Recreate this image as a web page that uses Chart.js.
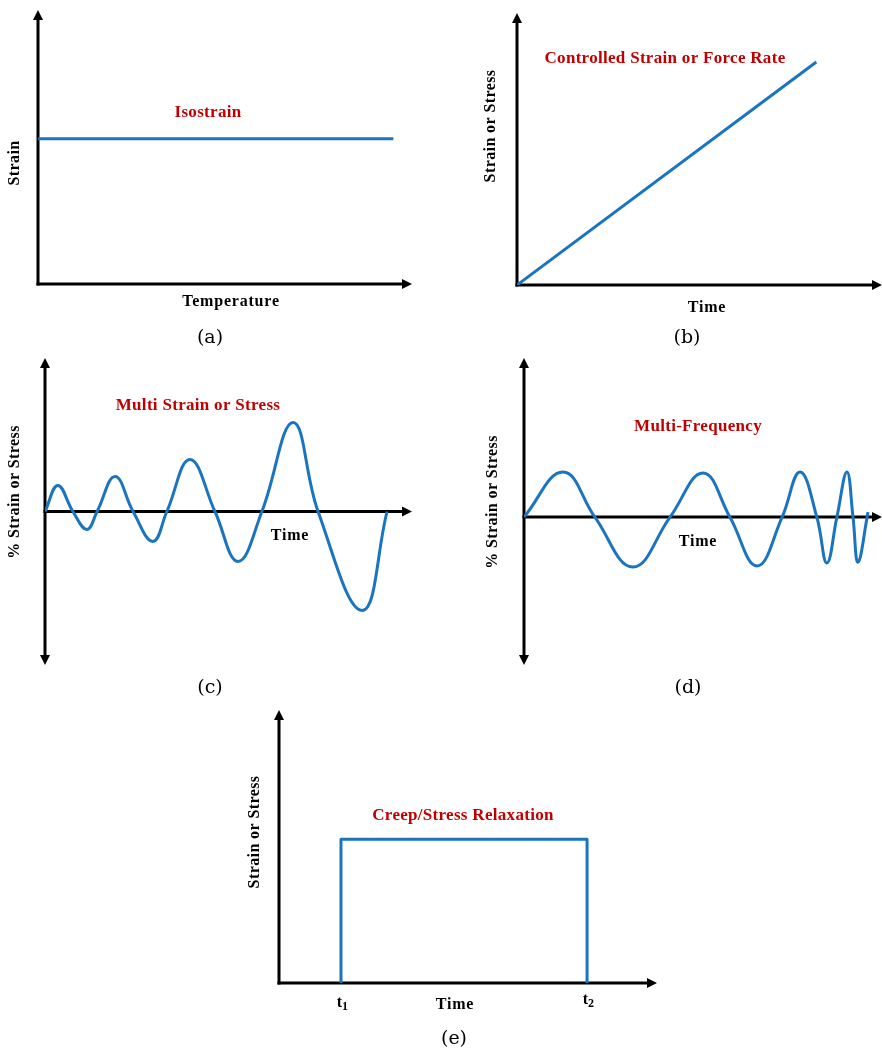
<!DOCTYPE html>
<html>
<head>
<meta charset="utf-8">
<script src="https://cdn.jsdelivr.net/npm/chart.js@4.4.1/dist/chart.umd.min.js"></script>
<style>
  body { margin: 0; background: #fff; width: 882px; height: 1054px; position: relative; overflow: hidden; }
  canvas { position: absolute; }
</style>
</head>
<body>
<canvas id="chartA" width="440" height="355" style="left:0;top:0"></canvas>
<canvas id="chartB" width="442" height="355" style="left:440px;top:0"></canvas>
<canvas id="chartC" width="440" height="345" style="left:0;top:355px"></canvas>
<canvas id="chartD" width="442" height="345" style="left:440px;top:355px"></canvas>
<canvas id="chartE" width="440" height="354" style="left:230px;top:700px"></canvas>
<script>
// (a) isostrain
const isoTemp = [0, 95];
const isoStrain = [53, 53];

// (b) controlled strain / force rate
const rateTime = [0, 82];
const rateStrain = [0, 82];

// (c) multi strain or stress
const multiTime = [0, 3.5, 7.6, 11.4, 14.2, 19.1, 24, 29.4, 33.2, 39.5, 46.3, 52.6, 59.1, 67.6, 74.4, 86.4, 93.2];
const multiStrain = [0, 17, 0, -11.7, 0, 22.8, 0, -19.5, 0, 33.9, 0, -32.6, 0, 58, 0, -64.5, 0];

// (d) multi-frequency
const freqTime = [0, 10.9, 19.8, 30.4, 40.8, 50, 57.5, 65.1, 72.1, 77.1, 81.8, 84.6, 87.4, 90.2, 91.9, 93.3, 96.1];
const freqStrain = [0, 28.3, 0, -31.4, 0, 27.7, 0, -30.8, 0, 28.3, 0, -28.9, 0, 28.3, 0, -28.3, 3.1];

// (e) creep / stress relaxation
const creepTime = [16.4, 16.4, 81.5, 81.5];
const creepStrain = [0, 52.7, 52.7, 0];
const creepTickTimes = [16.4, 81.5];
const creepTickSubs = ["1", "2"];

const BLUE = "#1b74bf";
const RED = "#c00000";
const SERIF = '"Liberation Serif", "Times New Roman", serif';
const CAPTION = '"DejaVu Serif", serif';

function arrowHead(ctx, tx, ty, dir) {
  const len = 10, half = 5;
  ctx.beginPath();
  if (dir === "up") { ctx.moveTo(tx, ty); ctx.lineTo(tx - half, ty + len); ctx.lineTo(tx + half, ty + len); }
  if (dir === "down") { ctx.moveTo(tx, ty); ctx.lineTo(tx - half, ty - len); ctx.lineTo(tx + half, ty - len); }
  if (dir === "right") { ctx.moveTo(tx, ty); ctx.lineTo(tx - len, ty - half); ctx.lineTo(tx - len, ty + half); }
  ctx.closePath();
  ctx.fill();
}

const axesPlugin = {
  id: "axesArrows",
  beforeDatasetsDraw(chart, args, opts) {
    const { ctx, chartArea: a, scales: { x, y } } = chart;
    const x0 = x.getPixelForValue(0);
    const y0 = y.getPixelForValue(0);
    ctx.save();
    ctx.strokeStyle = "#000";
    ctx.fillStyle = "#000";
    ctx.lineWidth = 3;
    const yStart = opts.both ? a.bottom - 8 : y0 + 1.5;
    ctx.beginPath();
    ctx.moveTo(x0, yStart);
    ctx.lineTo(x0, a.top + 8);
    ctx.stroke();
    arrowHead(ctx, x0, a.top, "up");
    if (opts.both) arrowHead(ctx, x0, a.bottom, "down");
    ctx.beginPath();
    ctx.moveTo(x0 - 1.5, y0);
    ctx.lineTo(a.right - 8, y0);
    ctx.stroke();
    arrowHead(ctx, a.right, y0, "right");
    ctx.restore();
  }
};

const textPlugin = {
  id: "panelText",
  afterDraw(chart, args, opts) {
    const ctx = chart.ctx;
    ctx.save();
    ctx.textAlign = "center";
    ctx.textBaseline = "middle";
    (opts.labels || []).forEach(l => {
      ctx.save();
      ctx.fillStyle = l.color || "#000";
      ctx.font = l.font;
      ctx.letterSpacing = l.spacing || "0px";
      ctx.translate(l.x, l.y);
      if (l.rotate) ctx.rotate(-Math.PI / 2);
      ctx.fillText(l.text, 0, 0);
      ctx.restore();
    });
    if (opts.ticks) {
      const xs = chart.scales.x;
      opts.ticks.values.forEach((v, i) => {
        const px = xs.getPixelForValue(v);
        const py = opts.ticks.y[i];
        ctx.fillStyle = "#000";
        ctx.textAlign = "right";
        ctx.font = "bold 16px " + SERIF;
        ctx.fillText("t", px + 1, py);
        ctx.textAlign = "left";
        ctx.font = "bold 12px " + SERIF;
        ctx.fillText(opts.ticks.subs[i], px + 1, py + 4);
      });
    }
    ctx.restore();
  }
};

function makeChart(id, xs, ys, cfg) {
  const points = xs.map((v, i) => ({ x: v, y: ys[i] }));
  return new Chart(document.getElementById(id), {
    type: "line",
    data: {
      datasets: [{
        data: points,
        borderColor: BLUE,
        borderWidth: 3,
        pointRadius: 0,
        fill: false,
        tension: cfg.smooth ? 0.42 : 0,
        borderJoinStyle: "round"
      }]
    },
    options: {
      responsive: false,
      animation: false,
      layout: { padding: cfg.padding },
      scales: {
        x: { type: "linear", min: 0, max: 100, display: false },
        y: { type: "linear", min: cfg.yMin, max: cfg.yMax, display: false }
      },
      plugins: {
        legend: { display: false },
        tooltip: { enabled: false },
        axesArrows: { both: cfg.both },
        panelText: { labels: cfg.labels, ticks: cfg.ticks }
      }
    },
    plugins: [axesPlugin, textPlugin]
  });
}

const axisFont = "bold 16px " + SERIF;
const noteFont = "bold 17px " + SERIF;
const capFont = "19px " + CAPTION;

makeChart("chartA", isoTemp, isoStrain, {
  padding: { left: 38, top: 10, right: 28, bottom: 71 },
  yMin: 0, yMax: 100,
  labels: [
    { text: "Isostrain", x: 208, y: 113, font: noteFont, color: RED, spacing: "0.3px" },
    { text: "Strain", x: 15, y: 163, font: axisFont, rotate: true, spacing: "0.4px" },
    { text: "Temperature", x: 231, y: 302, font: axisFont, spacing: "0.8px" },
    { text: "(a)", x: 210, y: 338, font: capFont }
  ]
});

makeChart("chartB", rateTime, rateStrain, {
  padding: { left: 77, top: 13, right: 0, bottom: 70 },
  yMin: 0, yMax: 100,
  labels: [
    { text: "Controlled Strain or Force Rate", x: 225, y: 59, font: noteFont, color: RED, spacing: "0.3px" },
    { text: "Strain or Stress", x: 51, y: 126, font: axisFont, rotate: true, spacing: "0.4px" },
    { text: "Time", x: 267, y: 308, font: axisFont, spacing: "0.8px" },
    { text: "(b)", x: 247, y: 338, font: capFont }
  ]
});

makeChart("chartC", multiTime, multiStrain, {
  padding: { left: 45, top: 3, right: 28, bottom: 35 },
  yMin: -100, yMax: 100, both: true, smooth: true,
  labels: [
    { text: "Multi Strain or Stress", x: 198, y: 51, font: noteFont, color: RED, spacing: "0.3px" },
    { text: "% Strain or Stress", x: 15, y: 137, font: axisFont, rotate: true, spacing: "0.4px" },
    { text: "Time", x: 290, y: 181, font: axisFont, spacing: "0.8px" },
    { text: "(c)", x: 210, y: 333, font: capFont }
  ]
});

makeChart("chartD", freqTime, freqStrain, {
  padding: { left: 84, top: 3, right: 0, bottom: 35 },
  yMin: -93, yMax: 100, both: true, smooth: true,
  labels: [
    { text: "Multi-Frequency", x: 258, y: 72, font: noteFont, color: RED, spacing: "0.3px" },
    { text: "% Strain or Stress", x: 53, y: 147, font: axisFont, rotate: true, spacing: "0.4px" },
    { text: "Time", x: 258, y: 187, font: axisFont, spacing: "0.8px" },
    { text: "(d)", x: 248, y: 333, font: capFont }
  ]
});

makeChart("chartE", creepTime, creepStrain, {
  padding: { left: 49, top: 10, right: 13, bottom: 71 },
  yMin: 0, yMax: 100,
  labels: [
    { text: "Creep/Stress Relaxation", x: 233, y: 116, font: noteFont, color: RED, spacing: "0.3px" },
    { text: "Strain or Stress", x: 25, y: 132, font: axisFont, rotate: true, spacing: "0.4px" },
    { text: "Time", x: 225, y: 305, font: axisFont, spacing: "0.8px" },
    { text: "(e)", x: 224, y: 339, font: capFont }
  ],
  ticks: { values: creepTickTimes, subs: creepTickSubs, y: [303, 300] }
});
</script>
</body>
</html>
